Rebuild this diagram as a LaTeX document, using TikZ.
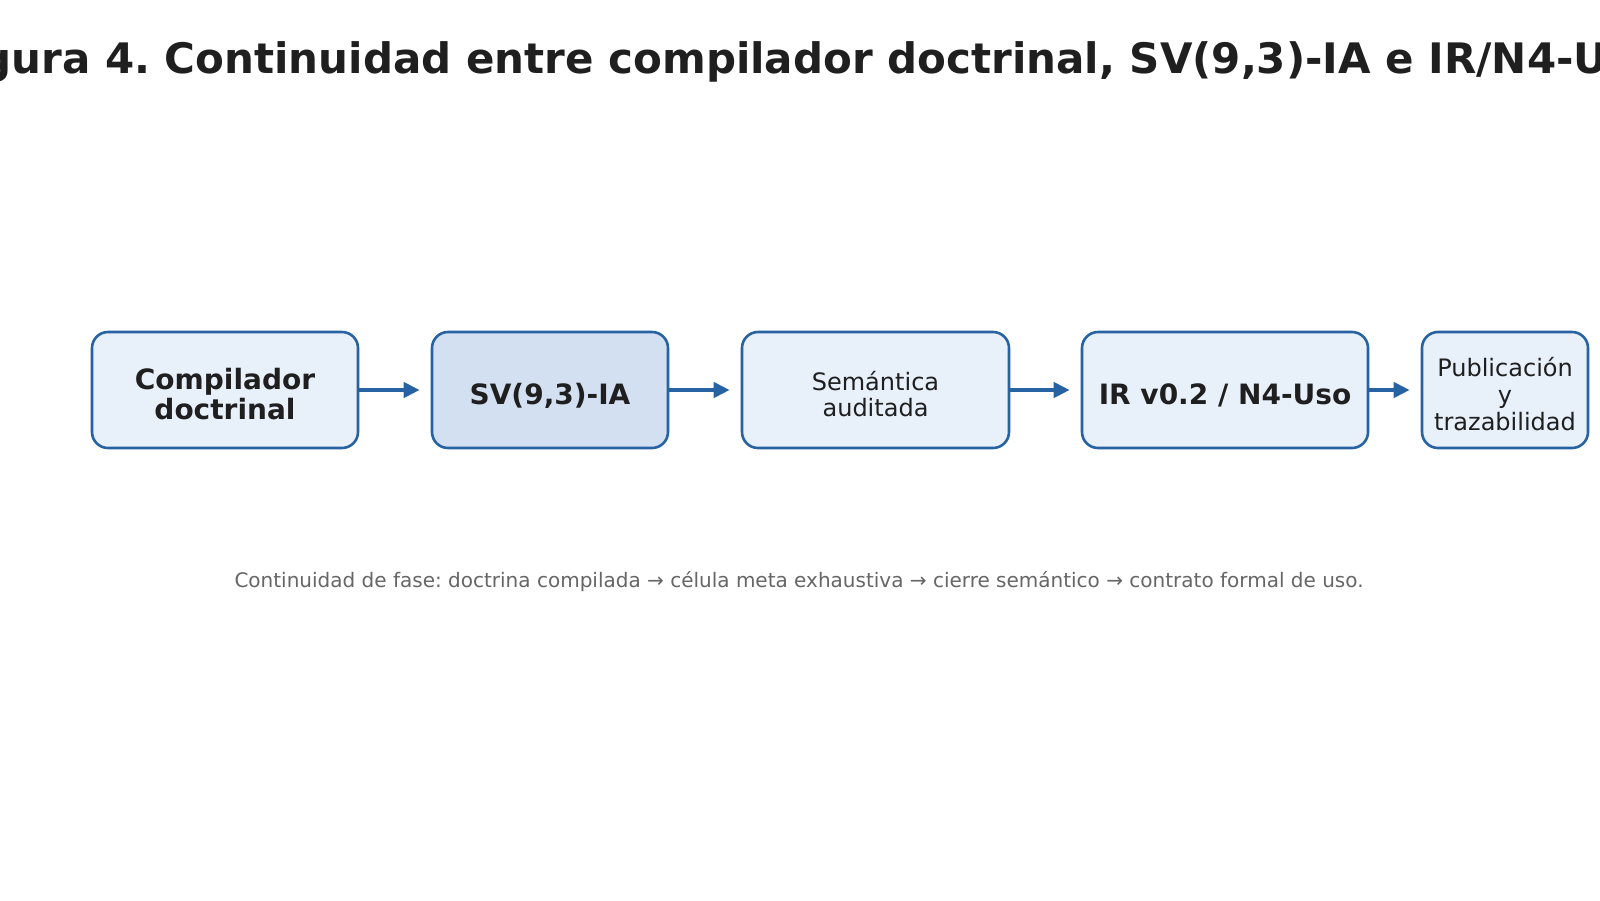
\documentclass[tikz,border=0pt]{standalone}
\usepackage{fontspec}
\setmainfont{DejaVu Sans}
\frenchspacing
\usetikzlibrary{arrows.meta}
\definecolor{edgeblue}{HTML}{2762A2}
\definecolor{boxfill}{HTML}{E8F0FA}
\definecolor{boxfilldark}{HTML}{D3E0F1}
\definecolor{ink}{HTML}{1F1F1F}
\definecolor{capgray}{HTML}{666666}
\newcommand{\stagetext}[1]{\raisebox{-8pt}[\height][\depth]{\begin{tabular}{@{}c@{}}#1\end{tabular}}}
\begin{document}
\begin{tikzpicture}[x=1pt,y=-1pt,
  stage/.style={draw=edgeblue, line width=2.6pt, fill=boxfill, rounded corners=16pt,
    minimum height=116pt, inner sep=0pt, text=ink},
  boldtxt/.style={font=\fontsize{28}{30}\selectfont\bfseries},
  normtxt/.style={font=\fontsize{24}{26.8}\selectfont},
  flow/.style={draw=edgeblue, line width=4pt, -{Triangle[length=16pt,width=15pt]}}
]
\useasboundingbox[fill=white] (0,0) rectangle (1600,900);
\clip (0,0) rectangle (1600,900);
\node[anchor=base, text=ink, font=\fontsize{42}{48}\selectfont\bfseries] (title) at (800,73.3)
  {Figura 4. Continuidad entre compilador doctrinal, SV(9,3)-IA e IR/N4-Uso};
\node[stage, boldtxt, minimum width=266pt] (b1) at (225,390) {\stagetext{Compilador\\doctrinal}};
\node[stage, boldtxt, fill=boxfilldark, minimum width=236pt] (b2) at (550,390) {\stagetext{SV(9,3)-IA}};
\node[stage, normtxt, minimum width=267pt] (b3) at (875.5,390) {\stagetext{Semántica\\auditada}};
\node[stage, boldtxt, minimum width=286pt] (b4) at (1225,390) {\stagetext{IR v0.2 / N4-Uso}};
\node[stage, normtxt, minimum width=166pt] (b5) at (1505,390) {\stagetext{Publicación\\y\\trazabilidad}};
\draw[flow] (b1.east) -- ([xshift=-11pt]b2.west);
\draw[flow] (b2.east) -- ([xshift=-11pt]b3.west);
\draw[flow] (b3.east) -- ([xshift=-11pt]b4.west);
\draw[flow] (b4.east) -- ([xshift=-11pt]b5.west);
\node[anchor=base, text=capgray, font=\fontsize{20}{23}\selectfont] (cap) at (799,587.7)
  {Continuidad de fase: doctrina compilada → célula meta exhaustiva → cierre semántico → contrato formal de uso.};
\end{tikzpicture}
\end{document}
